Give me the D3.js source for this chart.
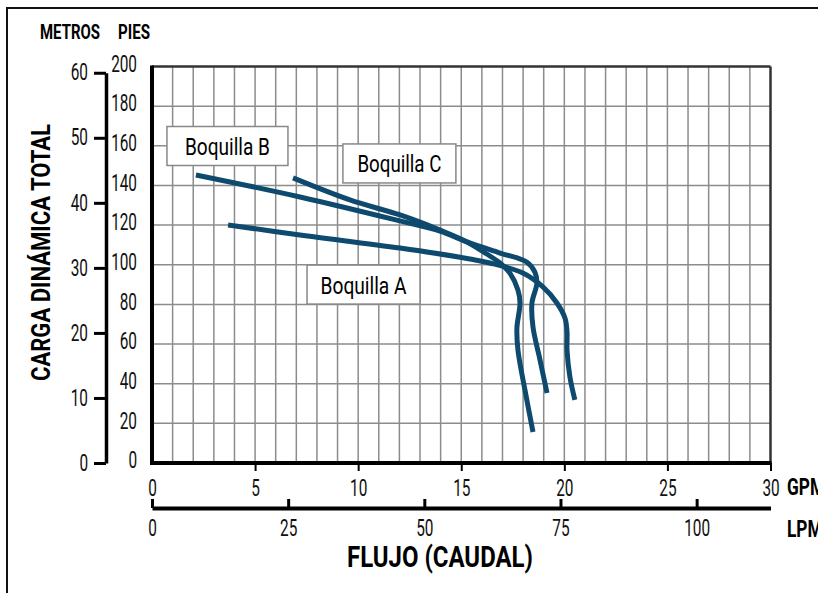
<!DOCTYPE html>
<html>
<head>
<meta charset="utf-8">
<script src="https://cdn.jsdelivr.net/npm/d3@7"></script>
<style>
  html, body { margin: 0; padding: 0; background: #fff; }
  svg { display: block; }
  text { font-family: Roboto, "DejaVu Sans", sans-serif; }
</style>
</head>
<body>
<svg id="chart" width="818" height="593"></svg>
<script>
// ---- data ----
const gpmTicks = [0, 5, 10, 15, 20, 25, 30];
const lpmTicks = [0, 25, 50, 75, 100];
const piesTicks = [0, 20, 40, 60, 80, 100, 120, 140, 160, 180, 200];
const metrosTicks = [0, 10, 20, 30, 40, 50, 60];

// Boquilla curves: flow (GPM), head (ft)
const boquillaB_gpm = [2.13, 7.18, 12.03, 13.97, 15.28, 16.88, 18.19, 18.57, 18.67, 18.43, 18.48, 18.82, 19.16];
const boquillaB_ft  = [145.3, 134.2, 122.1, 117.0, 111.5, 105.9, 101.3, 96.3, 90.8, 80.7, 68.6, 52.0, 35.3];
const boquillaC_gpm = [6.84, 9.60, 12.03, 13.97, 15.28, 16.39, 16.88, 17.36, 17.75, 17.85, 17.70, 17.75, 18.09, 18.48];
const boquillaC_ft  = [143.8, 132.7, 125.1, 117.5, 111.5, 104.4, 100.9, 95.8, 87.3, 80.7, 68.1, 57.0, 36.8, 15.6];
const boquillaA_gpm = [3.69, 7.18, 12.03, 15.42, 16.39, 17.99, 18.96, 19.64, 20.03, 20.13, 20.13, 20.27, 20.51];
const boquillaA_ft  = [120.1, 115.0, 108.4, 102.9, 100.9, 95.8, 88.8, 80.7, 73.1, 66.1, 57.0, 43.4, 31.8];

const labelNames = ["Boquilla B", "Boquilla C", "Boquilla A"];
// label box centres (GPM, ft)
const labelGpm = [3.66, 12.0, 10.26];
const labelFt  = [159.9, 151.1, 90.0];

const GAL_TO_L = 3.78541;
const FT_TO_M = 0.3048;

// ---- layout / style ----
const SQ = 0.64;               // horizontal squeeze for condensed look
const tickFont = 24;
const labelBoxW = [121, 113, 113];
const labelTextW = [85, 84, 86];

const svg = d3.select("#chart");
const pLeft = 152, pRight = 770.5, pTop = 66.5, pBottom = 463;
const x = d3.scaleLinear().domain([0, 30]).range([pLeft, pRight]);
const y = d3.scaleLinear().domain([0, 200]).range([pBottom, pTop]);
const xL = d3.scaleLinear().domain([0, 30 * GAL_TO_L]).range([pLeft, pRight]);
const yM = d3.scaleLinear().domain([0, 60]).range([pBottom, y(60 / FT_TO_M)]);

// outer frame
svg.append("rect").attr("x", 7).attr("y", 8).attr("width", 900).attr("height", 700)
  .attr("fill", "none").attr("stroke", "#111").attr("stroke-width", 2);

// grid
const grid = svg.append("g");
grid.selectAll("line.v").data(d3.range(1, 30)).join("line").attr("class", "v")
  .attr("x1", d => x(d)).attr("x2", d => x(d)).attr("y1", pTop).attr("y2", pBottom)
  .attr("stroke", "#8c8c8c").attr("stroke-width", 1.5);
grid.selectAll("line.h").data(d3.range(20, 200, 20)).join("line").attr("class", "h")
  .attr("y1", d => y(d)).attr("y2", d => y(d)).attr("x1", pLeft).attr("x2", pRight)
  .attr("stroke", "#8c8c8c").attr("stroke-width", 1.5);

// plot border
svg.append("line").attr("x1", pLeft).attr("x2", pRight).attr("y1", pTop).attr("y2", pTop)
  .attr("stroke", "#333").attr("stroke-width", 2.5);
svg.append("line").attr("x1", pRight).attr("x2", pRight).attr("y1", pTop).attr("y2", pBottom)
  .attr("stroke", "#333").attr("stroke-width", 2.5);
svg.append("line").attr("x1", pLeft).attr("x2", pLeft).attr("y1", pTop - 1).attr("y2", pBottom + 2)
  .attr("stroke", "#000").attr("stroke-width", 4);
svg.append("line").attr("x1", pLeft - 2).attr("x2", pRight + 1).attr("y1", pBottom).attr("y2", pBottom)
  .attr("stroke", "#000").attr("stroke-width", 4);

function squeeze(sel, tx) {
  sel.attr("x", 0).attr("transform", `translate(${tx},0) scale(${SQ},1)`)
    .attr("font-size", tickFont).attr("fill", "#111");
}

// GPM axis
const gx = svg.append("g").attr("transform", `translate(0,${pBottom})`)
  .call(d3.axisBottom(x).tickValues(gpmTicks).tickSize(8).tickPadding(8).tickFormat(d3.format("d")));
gx.select(".domain").remove();
gx.selectAll(".tick line").attr("stroke", "#000").attr("stroke-width", 2)
  .attr("display", d => d === 0 ? "none" : null);
squeeze(gx.selectAll("text"), 0);

// LPM axis
const lpmY = 508;
const gl = svg.append("g").attr("transform", `translate(0,${lpmY})`)
  .call(d3.axisBottom(xL).tickValues(lpmTicks).tickSizeInner(-9).tickSizeOuter(0).tickPadding(11));
gl.select(".domain").attr("stroke", "#000").attr("stroke-width", 4);
gl.selectAll(".tick line").attr("stroke", "#000").attr("stroke-width", 3);
squeeze(gl.selectAll("text"), 0);

// Metros axis
const gm = svg.append("g").attr("transform", "translate(106,0)")
  .call(d3.axisLeft(yM).tickValues(metrosTicks).tickSizeInner(12).tickSizeOuter(0).tickPadding(6));
gm.select(".domain").attr("stroke", "#000").attr("stroke-width", 3.5);
gm.selectAll(".tick line").attr("stroke", "#000").attr("stroke-width", 3);
squeeze(gm.selectAll("text"), -18);
gm.selectAll("text").attr("dy", "0.3em");

// Pies labels
const gp = svg.append("g").selectAll("g").data(piesTicks).join("g")
  .attr("transform", d => `translate(137,${y(d)})`);
gp.append("text").attr("dy", "0.22em").attr("text-anchor", "end").text(d => d)
  .call(s => squeeze(s, 0));

// headings
svg.append("text").attr("x", 40).attr("y", 39).attr("font-size", 20).attr("font-weight", "bold")
  .attr("textLength", 60).attr("lengthAdjust", "spacingAndGlyphs").text("METROS");
svg.append("text").attr("x", 118).attr("y", 39).attr("font-size", 20).attr("font-weight", "bold")
  .attr("textLength", 32).attr("lengthAdjust", "spacingAndGlyphs").text("PIES");
svg.append("text").attr("transform", "translate(50,252.5) rotate(-90)")
  .attr("text-anchor", "middle").attr("font-size", 25).attr("font-weight", "bold")
  .attr("textLength", 257).attr("lengthAdjust", "spacingAndGlyphs")
  .text("CARGA DINÁMICA TOTAL");
svg.append("text").attr("x", 440).attr("y", 567).attr("text-anchor", "middle")
  .attr("font-size", 29).attr("font-weight", "bold")
  .attr("textLength", 186).attr("lengthAdjust", "spacingAndGlyphs").text("FLUJO (CAUDAL)");
svg.append("text").attr("transform", "translate(787,495) scale(0.72,1)")
  .attr("font-size", 24).attr("font-weight", "bold").text("GPM");
svg.append("text").attr("transform", "translate(787,537) scale(0.72,1)")
  .attr("font-size", 24).attr("font-weight", "bold").text("LPM");

// curves
const line = d3.line().x(d => x(d[0])).y(d => y(d[1])).curve(d3.curveCatmullRom.alpha(0.5));
const series = [
  d3.zip(boquillaB_gpm, boquillaB_ft),
  d3.zip(boquillaC_gpm, boquillaC_ft),
  d3.zip(boquillaA_gpm, boquillaA_ft)
];
svg.append("g").selectAll("path").data(series).join("path")
  .attr("d", line).attr("fill", "none").attr("stroke", "#0e4a6e")
  .attr("stroke-width", 5).attr("stroke-linejoin", "round");

// label boxes
const lb = svg.append("g").selectAll("g").data(labelNames).join("g")
  .attr("transform", (d, i) => `translate(${x(labelGpm[i])},${y(labelFt[i])})`);
lb.append("rect").attr("x", (d, i) => -labelBoxW[i] / 2).attr("y", -19.5)
  .attr("width", (d, i) => labelBoxW[i]).attr("height", 39)
  .attr("fill", "#fff").attr("stroke", "#888").attr("stroke-width", 1.5);
lb.append("text").attr("x", (d, i) => -labelTextW[i] / 2).attr("y", 9)
  .attr("font-size", 24).attr("fill", "#000")
  .attr("textLength", (d, i) => labelTextW[i]).attr("lengthAdjust", "spacingAndGlyphs")
  .text(d => d);
</script>
</body>
</html>
